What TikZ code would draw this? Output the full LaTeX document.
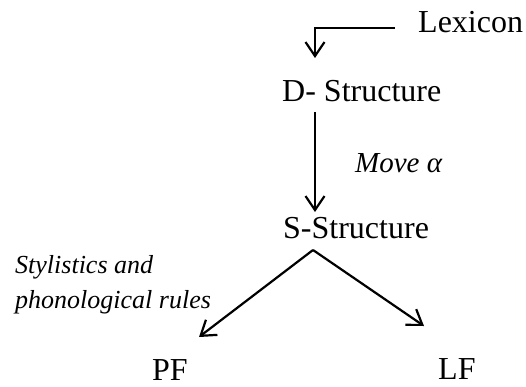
\documentclass[tikz,border=0pt]{standalone}
\usepackage{fontspec}
\setmainfont{Liberation Serif}
\usetikzlibrary{arrows.meta}
\begin{document}
\begin{tikzpicture}[x=1pt,y=-1pt,
  label/.style={anchor=base west,inner sep=0pt,font=\fontsize{32}{38}\selectfont},
  note/.style={anchor=base west,inner sep=0pt,font=\fontsize{26}{35}\selectfont\itshape,align=left},
  link/.style={line width=2.2pt,-{Straight Barb[length=14pt,width=19pt,line width=2.2pt]}}]
\useasboundingbox (0,0) rectangle (526,387);
% levels of the derivation
\node[label] (lex) at (418,33) {Lexicon};
\node[label] (ds)  at (282,102) {D- Structure};
\node[label] (ss)  at (283,238) {S-Structure};
\node[label] (pf)  at (152,380) {PF};
\node[label] (lf)  at (438,379) {LF};
% operation labels
\node[note,font=\fontsize{29}{35}\selectfont\itshape] (mv) at (355,173) {Move α};
\node[note,anchor=north west] (sty) at (15,255) {Stylistics and\\phonological rules};
% connectors
\coordinate (lexend) at (395,28);
\coordinate (lexcorner) at (315,28);
\coordinate (lextip) at (315,58);
\coordinate (dsout) at (315,112);
\coordinate (ssin) at (315,212);
\coordinate (split) at (313,250);
\coordinate (pftip) at (199,337);
\coordinate (lftip) at (424,326);
\draw[link] (lexend) -- (lexcorner) -- (lextip);
\draw[link] (dsout) -- (ssin);
\draw[link] (split) -- (pftip);
\draw[link] (split) -- (lftip);
\end{tikzpicture}
\end{document}
